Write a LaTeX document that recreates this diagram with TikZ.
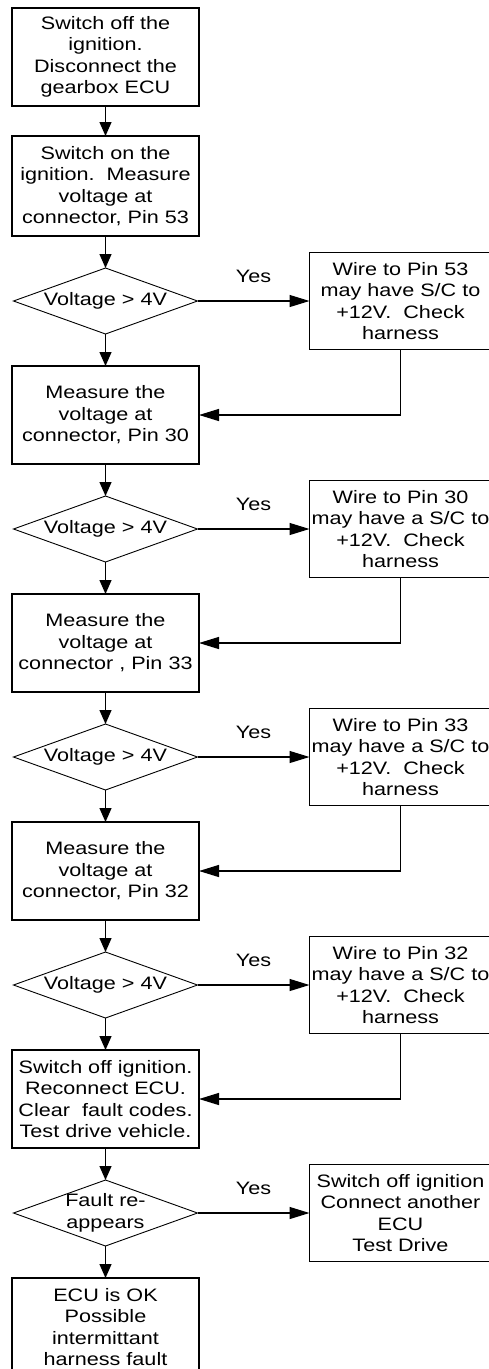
\documentclass[tikz,border=0pt]{standalone}
\usepackage{fontspec}
\setmainfont[FakeStretch=1.2]{Liberation Sans}
\usetikzlibrary{arrows.meta, positioning, shapes.geometric}

\begin{document}
\begin{tikzpicture} [x=1pt, y=-1pt, node distance=32pt,
		% define styles
		stepnodestyle/.style={
			% The shape:
			rectangle,
			% The size:
			minimum width=187pt,
			minimum height=98pt,
			inner sep=0pt,
			outer sep=0pt,
			% The border:
			line width=1.3pt,
			draw=black,
			% Text
			align=center,
			font=\fontsize{18}{21.5}\selectfont
		},
		checknodestyle/.style={
			% The shape:
			rectangle,
			% The size:
			minimum width=182pt,
			minimum height=97pt,
			inner sep=0pt,
			outer sep=0pt,
			% The border:
			line width=1.3pt,
			draw=black,
			% Text
			align=center,
			font=\fontsize{18}{21.5}\selectfont
		},
		decisionnodestyle/.style={
			% The shape:
			diamond,
			aspect=2.8,
			% The size:
			minimum width=184pt,
			minimum height=66pt,
			inner sep=-2pt,
			outer sep=0pt,
			% The border:
			line width=0.9pt,
			draw=black,
			% Text
			align=center,
			font=\fontsize{18}{21.5}\selectfont
		},
		arrow/.style={
			->,
			% Thickness
			line width=1.3pt,
			>={Triangle[length=14pt, width=12pt]},
			% Color
			black
		},
		arrowresponse/.style={
			->,
			% Thickness
			line width=1.3pt,
			>={Triangle[length=20pt, width=12pt]},
			% Color
			black,
			text=black,
			font=\fontsize{18}{21.5}\selectfont
		}]
		% end of style definition

		\useasboundingbox (0,0) rectangle (489,1369);
		\clip (0,0) rectangle (489,1369);

		% draw nodes
		\node (iSwitchOff) [stepnodestyle] at (105.5,57) {Switch off the\\ignition.\\Disconnect the\\gearbox ECU};
		\node (iSwitchOn) [stepnodestyle, minimum height=100pt, below = 30pt of iSwitchOff] {Switch on the\\ignition.\ \ Measure\\voltage at\\connector, Pin 53};
		\node (iVolt53) [decisionnodestyle, below = of iSwitchOn] {Voltage > 4V};
		\node (iPin30) [stepnodestyle, below = of iVolt53] {Measure the\\voltage at\\connector, Pin 30};
		\node (iVolt30) [decisionnodestyle, below = of iPin30] {Voltage > 4V};
		\node (iPin33) [stepnodestyle, below = of iVolt30] {Measure the\\voltage at\\connector , Pin 33};
		\node (iVolt33) [decisionnodestyle, below = of iPin33] {Voltage > 4V};
		\node (iPin32) [stepnodestyle, below = of iVolt33] {Measure the\\voltage at\\connector, Pin 32};
		\node (iVolt32) [decisionnodestyle, below = of iPin32] {Voltage > 4V};
		\node (iTestDrive) [stepnodestyle, below = of iVolt32] {Switch off ignition.\\Reconnect ECU.\\Clear\ \ fault codes.\\Test drive vehicle.};
		\node (iFault) [decisionnodestyle, below = of iTestDrive] {Fault re-\\appears};
		\node (iEcuOk) [stepnodestyle, below = of iFault] {ECU is OK\\Possible\\intermittant\\harness fault};

		\node (iCheck53) [checknodestyle, right = 112pt of iVolt53] {Wire to Pin 53\\may have S/C to\\+12V.\ \ Check\\harness};
		\node (iCheck30) [checknodestyle, right = 112pt of iVolt30] {Wire to Pin 30\\may have a S/C to\\+12V.\ \ Check\\harness};
		\node (iCheck33) [checknodestyle, right = 112pt of iVolt33] {Wire to Pin 33\\may have a S/C to\\+12V.\ \ Check\\harness};
		\node (iCheck32) [checknodestyle, right = 112pt of iVolt32] {Wire to Pin 32\\may have a S/C to\\+12V.\ \ Check\\harness};
		\node (iNewEcu) [checknodestyle, right = 112pt of iFault] {Switch off ignition\\Connect another\\ECU\\Test Drive};

		% connect nodes
		\draw [arrow] (iSwitchOff) -- (iSwitchOn);
		\draw [arrow] (iSwitchOn) -- (iVolt53);
		\draw [arrow] (iVolt53) -- (iPin30);
		\draw [arrow] (iPin30) -- (iVolt30);
		\draw [arrow] (iVolt30) -- (iPin33);
		\draw [arrow] (iPin33) -- (iVolt33);
		\draw [arrow] (iVolt33) -- (iPin32);
		\draw [arrow] (iPin32) -- (iVolt32);
		\draw [arrow] (iVolt32) -- (iTestDrive);
		\draw [arrow] (iTestDrive) -- (iFault);
		\draw [arrow] (iFault) -- (iEcuOk);

		\draw [arrowresponse] (iVolt53) -- node[above, yshift=14pt] {Yes} (iCheck53);
		\draw [arrowresponse] (iVolt30) -- node[above, yshift=14pt] {Yes} (iCheck30);
		\draw [arrowresponse] (iVolt33) -- node[above, yshift=14pt] {Yes} (iCheck33);
		\draw [arrowresponse] (iVolt32) -- node[above, yshift=14pt] {Yes} (iCheck32);
		\draw [arrowresponse] (iFault) -- node[above, yshift=14pt] {Yes} (iNewEcu);

		\draw [arrowresponse] (iCheck53.south) |- (iPin30.east);
		\draw [arrowresponse] (iCheck30.south) |- (iPin33.east);
		\draw [arrowresponse] (iCheck33.south) |- (iPin32.east);
		\draw [arrowresponse] (iCheck32.south) |- (iTestDrive.east);
	\end{tikzpicture}
\end{document}
